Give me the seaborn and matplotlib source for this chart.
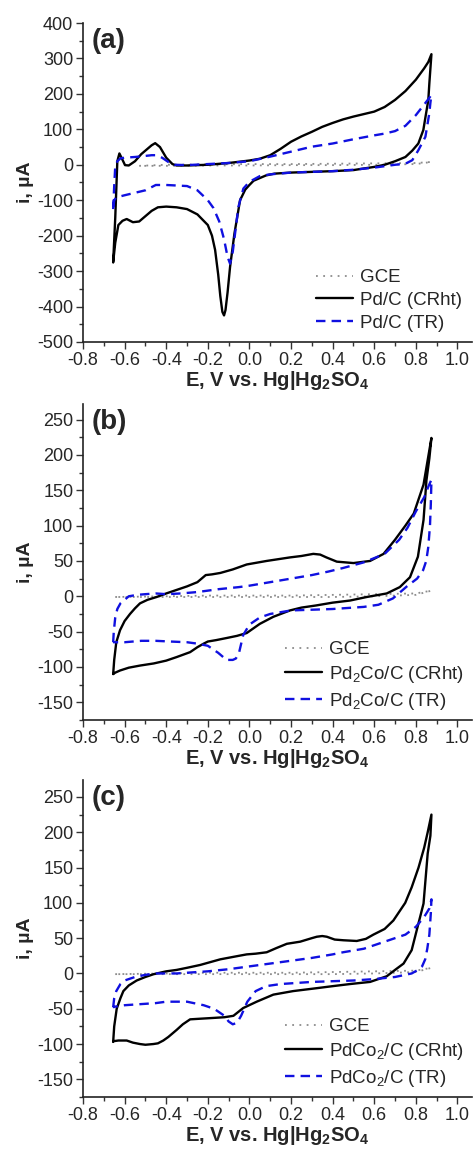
import numpy as np
import pandas as pd
import matplotlib
matplotlib.use("Agg")
import matplotlib.pyplot as plt
from matplotlib.ticker import MultipleLocator
import seaborn as sns

# ---------------- data (E in V, I in uA) ----------------
# Panel (a)
a_gce_E = [-0.53, -0.40, -0.20, 0.00, 0.20, 0.40, 0.60, 0.80, 0.875, 0.80, 0.60, 0.40, 0.20, 0.00, -0.20, -0.40, -0.53]
a_gce_I = [-3, 0, 1, 2, 2, 3, 4, 5, 8, 2, 0, -1, -1, -2, -2, -3, -3]

a_crht_E = [-0.655, -0.645, -0.635, -0.625, -0.615, -0.598, -0.58, -0.55, -0.52, -0.50, -0.47, -0.453, -0.43, -0.40, -0.37, -0.35, -0.30, -0.20, -0.10, 0.0, 0.05, 0.10, 0.15, 0.20, 0.25, 0.30, 0.35, 0.40, 0.45, 0.50, 0.55, 0.60, 0.65, 0.70, 0.75, 0.80, 0.84, 0.86, 0.875,
            0.865, 0.86, 0.845, 0.836, 0.812, 0.783, 0.75, 0.70, 0.65, 0.60, 0.50, 0.40, 0.30, 0.20, 0.12, 0.08, 0.04, 0.02, 0.0, -0.02, -0.045, -0.072, -0.093, -0.105, -0.115, -0.122, -0.13, -0.14, -0.15, -0.165, -0.18, -0.20, -0.25, -0.30, -0.35, -0.40, -0.44, -0.47, -0.50, -0.53, -0.56, -0.59, -0.61, -0.63, -0.645, -0.655]
a_crht_I = [-275, -150, 10, 32, 20, -1, -2, 10, 30, 40, 55, 61, 50, 20, 2, -2, -2, 0, 5, 12, 17, 27, 45, 65, 80, 93, 107, 118, 128, 136, 143, 150, 163, 183, 208, 240, 272, 290, 312,
            230, 183, 130, 98, 60, 40, 22, 10, 0, -6, -15, -18, -20, -22, -25, -30, -40, -45, -57, -70, -100, -194, -288, -360, -410, -425, -415, -370, -310, -240, -200, -170, -140, -125, -120, -118, -120, -130, -145, -160, -162, -153, -158, -170, -220, -275]

a_tr_E = [-0.655, -0.65, -0.645, -0.635, -0.62, -0.60, -0.55, -0.50, -0.47, -0.45, -0.42, -0.39, -0.36, -0.30, -0.20, -0.10, 0.0, 0.1, 0.2, 0.3, 0.4, 0.5, 0.6, 0.65, 0.7, 0.75, 0.8, 0.84, 0.86, 0.875,
          0.87, 0.865, 0.846, 0.812, 0.783, 0.75, 0.70, 0.60, 0.50, 0.40, 0.30, 0.20, 0.10, 0.05, 0.0, -0.029, -0.053, -0.069, -0.08, -0.093, -0.105, -0.122, -0.145, -0.173, -0.20, -0.25, -0.30, -0.40, -0.45, -0.50, -0.55, -0.60, -0.64, -0.65, -0.655]
a_tr_I = [-125, -60, -5, 10, 18, 20, 22, 25, 27, 27, 20, 8, 0, -1, 2, 5, 10, 23, 37, 51, 60, 72, 83, 88, 95, 110, 140, 170, 185, 197,
          175, 146, 79, 41, 13, 3, 0, -8, -14, -18, -20, -22, -27, -32, -48, -67, -119, -194, -245, -279, -260, -210, -160, -122, -100, -72, -60, -57, -57, -72, -79, -86, -92, -100, -125]

# Panel (b)
b_gce_E = [-0.645, -0.40, -0.20, 0.00, 0.20, 0.40, 0.60, 0.80, 0.875, 0.80, 0.60, 0.40, 0.20, 0.00, -0.20, -0.40, -0.645]
b_gce_I = [-1, 0, 1, 1, 1, 2, 3, 4, 8, 2, 0, -1, -1, -1, -1, -1, -1]

b_crht_E = [-0.655, -0.65, -0.64, -0.622, -0.60, -0.574, -0.55, -0.526, -0.49, -0.446, -0.40, -0.35, -0.30, -0.25, -0.23, -0.21, -0.18, -0.14, -0.08, -0.013, 0.083, 0.195, 0.25, 0.307, 0.34, 0.37, 0.42, 0.50, 0.58, 0.645, 0.70, 0.75, 0.79, 0.837, 0.86, 0.875,
            0.865, 0.851, 0.837, 0.81, 0.772, 0.723, 0.66, 0.564, 0.484, 0.40, 0.32, 0.25, 0.195, 0.115, 0.05, -0.013, -0.06, -0.109, -0.16, -0.20, -0.22, -0.25, -0.285, -0.35, -0.40, -0.46, -0.526, -0.58, -0.622, -0.645, -0.655]
b_crht_I = [-110, -90, -65, -48, -35, -25, -17, -10, -5, -1, 4, 9, 14, 20, 25, 30, 31, 33, 38, 45, 50, 55, 57, 60, 59, 55, 49, 47, 50, 60, 80, 100, 117, 158, 198, 224,
            195, 164, 108, 56, 27, 13, 4, -1, -6, -9, -13, -16, -20, -29, -39, -52, -56, -59, -62, -64, -67, -72, -79, -86, -91, -95, -98, -101, -105, -108, -110]

b_tr_E = [-0.655, -0.652, -0.645, -0.635, -0.62, -0.60, -0.58, -0.54, -0.50, -0.45, -0.40, -0.33, -0.25, -0.15, -0.05, 0.0, 0.1, 0.2, 0.3, 0.38, 0.45, 0.55, 0.65, 0.72, 0.76, 0.8, 0.84, 0.86, 0.875,
          0.872, 0.868, 0.86, 0.85, 0.835, 0.806, 0.757, 0.69, 0.62, 0.55, 0.40, 0.30, 0.20, 0.10, 0.05, 0.0, -0.03, -0.05, -0.065, -0.08, -0.11, -0.15, -0.2, -0.25, -0.3, -0.38, -0.45, -0.52, -0.6, -0.64, -0.655]
b_tr_I = [-65, -50, -30, -18, -10, -5, 0, 2, 3, 4, 3, 4, 6, 10, 13, 15, 20, 25, 30, 35, 40, 48, 60, 80, 97, 120, 140, 155, 165,
          130, 100, 70, 50, 37, 25, 14, -3, -12, -15, -18, -19, -20, -25, -30, -40, -55, -80, -88, -90, -90, -80, -70, -67, -65, -64, -63, -63, -65, -65, -65]

# Panel (c)
c_gce_E = [-0.645, -0.40, -0.20, 0.00, 0.20, 0.40, 0.60, 0.80, 0.875, 0.80, 0.60, 0.40, 0.20, 0.00, -0.20, -0.40, -0.645]
c_gce_I = [-1, 0, 1, 1, 1, 2, 3, 4, 8, 2, 0, -1, -1, -1, -1, -1, -1]

c_crht_E = [-0.655, -0.65, -0.638, -0.62, -0.606, -0.58, -0.542, -0.50, -0.46, -0.40, -0.35, -0.30, -0.237, -0.14, -0.05, -0.013, 0.03, 0.083, 0.13, 0.18, 0.244, 0.30, 0.324, 0.35, 0.372, 0.41, 0.452, 0.516, 0.56, 0.596, 0.65, 0.692, 0.749, 0.78, 0.813, 0.84, 0.857, 0.875,
            0.87, 0.857, 0.837, 0.805, 0.78, 0.741, 0.70, 0.66, 0.58, 0.484, 0.40, 0.32, 0.21, 0.115, 0.035, -0.03, -0.077, -0.12, -0.173, -0.23, -0.285, -0.32, -0.35, -0.39, -0.414, -0.44, -0.462, -0.50, -0.526, -0.56, -0.59, -0.63, -0.655]
c_crht_I = [-97, -75, -50, -35, -25, -17, -10, -5, -1, 3, 5, 8, 12, 20, 25, 27, 28, 30, 36, 42, 45, 50, 52, 53, 52, 48, 47, 46, 49, 55, 63, 75, 100, 122, 150, 178, 200, 225,
            195, 170, 99, 62, 33, 14, 5, -4, -12, -15, -18, -21, -25, -30, -40, -49, -60, -62, -63, -64, -65, -72, -80, -90, -95, -99, -100, -101, -100, -98, -95, -95, -96]

c_tr_E = [-0.655, -0.65, -0.64, -0.62, -0.60, -0.55, -0.50, -0.45, -0.35, -0.25, -0.2, -0.1, -0.05, 0.0, 0.1, 0.2, 0.3, 0.4, 0.45, 0.55, 0.65, 0.75, 0.80, 0.84, 0.865, 0.875,
          0.872, 0.865, 0.855, 0.845, 0.83, 0.81, 0.78, 0.70, 0.60, 0.50, 0.30, 0.15, 0.08, 0.03, -0.01, -0.04, -0.06, -0.08, -0.10, -0.12, -0.17, -0.22, -0.30, -0.40, -0.45, -0.55, -0.60, -0.645, -0.655]
c_tr_I = [-48, -35, -25, -15, -10, -5, -2, 0, 0, 2, 3, 6, 8, 10, 14, 18, 22, 27, 30, 35, 45, 55, 66, 80, 92, 105,
          85, 55, 35, 20, 10, 5, 0, -5, -8, -10, -12, -15, -18, -25, -40, -60, -70, -72, -68, -60, -50, -45, -40, -40, -42, -44, -45, -47, -48]

x_tick_values = [-0.8, -0.6, -0.4, -0.2, 0.0, 0.2, 0.4, 0.6, 0.8, 1.0]
x_tick_labels = ["-0.8", "-0.6", "-0.4", "-0.2", "0.0", "0.2", "0.4", "0.6", "0.8", "1.0"]
panel_tags = ["(a)", "(b)", "(c)"]
legend_labels = [
    ["GCE", "Pd/C (CRht)", "Pd/C (TR)"],
    ["GCE", "Pd$_2$Co/C (CRht)", "Pd$_2$Co/C (TR)"],
    ["GCE", "PdCo$_2$/C (CRht)", "PdCo$_2$/C (TR)"],
]
ylims = [(-500, 400), (-175, 272), (-175, 274)]
ymajor = [100, 50, 50]

# ---------------- styling ----------------
sns.set_theme(style="ticks")
plt.rcParams["font.family"] = ["Liberation Sans", "DejaVu Sans"]
plt.rcParams["mathtext.fontset"] = "custom"
plt.rcParams["mathtext.rm"] = "Liberation Sans"
plt.rcParams["mathtext.bf"] = "Liberation Sans:bold"
plt.rcParams["mathtext.default"] = "rm"
plt.rcParams["axes.unicode_minus"] = False

fig = plt.figure(figsize=(4.73, 11.54), dpi=100)
W, H = 473.0, 1154.0
boxes = [(83, 23, 342), (83, 404, 720), (83, 780, 1097)]  # left, top, bottom in px
right_px = 472

data = [
    (a_gce_E, a_gce_I, a_crht_E, a_crht_I, a_tr_E, a_tr_I),
    (b_gce_E, b_gce_I, b_crht_E, b_crht_I, b_tr_E, b_tr_I),
    (c_gce_E, c_gce_I, c_crht_E, c_crht_I, c_tr_E, c_tr_I),
]
leg_spacing = [0.3, 0.3, 0.3]
leg_pad = [0.15, 0.05, 0.05]

for k in range(3):
    l, t, b = boxes[k]
    ax = fig.add_axes([l / W, 1 - b / H, (right_px - l) / W, (b - t) / H])
    gE, gI, kE, kI, tE, tI = data[k]
    labs = legend_labels[k]
    sns.lineplot(x=gE, y=gI, sort=False, estimator=None, ax=ax, color="#8c8c8c",
                 linewidth=1.3, linestyle=(0, (1, 3)), label=labs[0])
    sns.lineplot(x=kE, y=kI, sort=False, estimator=None, ax=ax, color="black",
                 linewidth=1.7, label=labs[1])
    sns.lineplot(x=tE, y=tI, sort=False, estimator=None, ax=ax, color="#1010e0",
                 linewidth=1.7, linestyle=(0, (4, 2.6)), label=labs[2])

    ax.set_xlim(-0.8, 1.07)
    ax.set_ylim(*ylims[k])
    ax.set_xticks(x_tick_values)
    ax.set_xticklabels(x_tick_labels)
    ax.xaxis.set_minor_locator(MultipleLocator(0.1))
    ax.yaxis.set_major_locator(MultipleLocator(ymajor[k]))
    ax.yaxis.set_minor_locator(MultipleLocator(ymajor[k] / 2))
    ax.tick_params(which="major", direction="out", length=5, width=1.0, labelsize=13, pad=2, color="#333333")
    ax.tick_params(which="minor", direction="out", length=3, width=1.0, color="#333333")
    for s in ["top", "right"]:
        ax.spines[s].set_visible(False)
    for s in ["left", "bottom"]:
        ax.spines[s].set_linewidth(1.2)
        ax.spines[s].set_color("#222222")
    ax.set_xlabel(r"E, V vs. Hg|Hg$_\mathbf{2}$SO$_\mathbf{4}$", fontsize=14.5, fontweight="bold", labelpad=0)
    ax.set_ylabel("i, µA", fontsize=14, fontweight="bold", labelpad=2)
    ax.text(0.023, 0.985, panel_tags[k], transform=ax.transAxes, fontsize=20,
            fontweight="bold", ha="left", va="top")
    ax.legend(loc="lower right", bbox_to_anchor=(1.0, 0.0), frameon=False, fontsize=13.5,
              handlelength=2.0, handletextpad=0.35, labelspacing=leg_spacing[k], borderaxespad=leg_pad[k])

fig.savefig("out.png", dpi=100)
